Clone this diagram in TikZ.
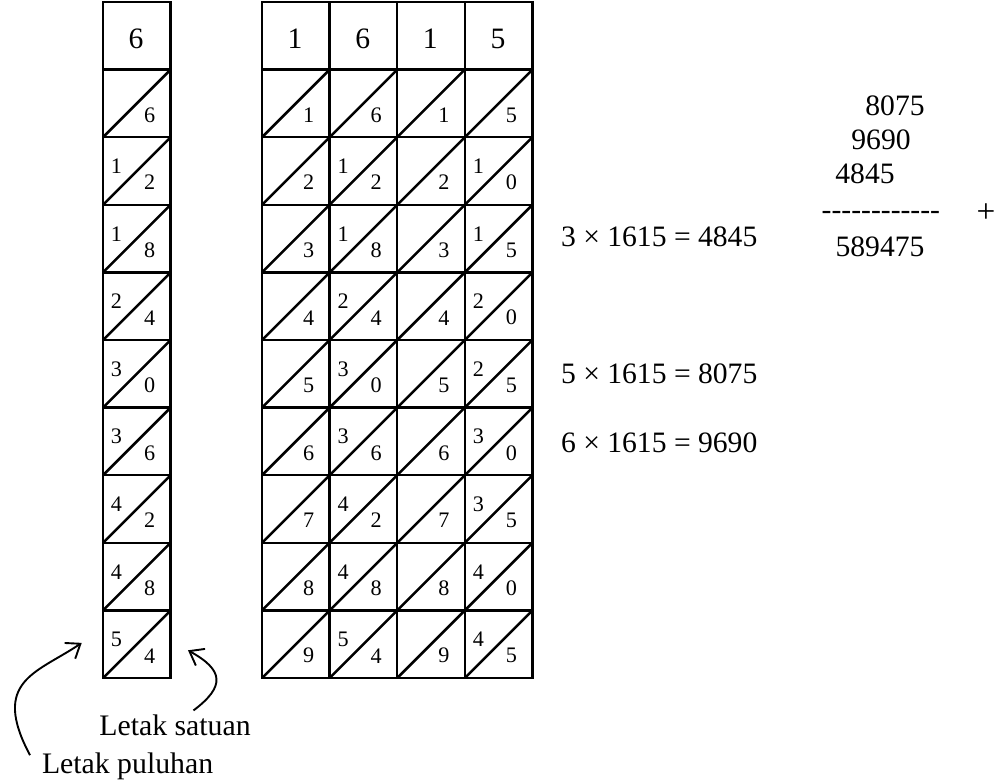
\documentclass[tikz,border=0pt]{standalone}
\usepackage{fontspec}
\setmainfont{Liberation Serif}[Ligatures=TeXOff]
\usetikzlibrary{arrows.meta, positioning}

\begin{document}
\begin{tikzpicture}[x=1.5cm, y=1.5cm,
    grid/.style={line width=1.6pt},
    head/.style={font=\fontsize{18.7}{21}\selectfont, anchor=base, inner sep=0pt},
    digit/.style={font=\fontsize{14}{16}\selectfont, inner sep=0pt},
    eqn/.style={font=\fontsize{18.7}{21}\selectfont, anchor=base west, inner sep=0pt},
    sum/.style={font=\fontsize{18.7}{21}\selectfont, anchor=base, inner sep=0pt},
    note/.style={font=\fontsize{18.8}{21}\selectfont, anchor=base west, inner sep=0pt},
    pointer/.style={-{Straight Barb[length=8pt, width=12pt]}, line width=1.2pt},
]
    \useasboundingbox (-3.876,0.03) rectangle (10.828,-11.509);

    % lattice strips: 6 on its own, then 1 6 1 5
    \foreach \x/\d [count=\c] in {-2.352/6, 0/1, 1/6, 2/1, 3/5} {
        \draw[grid] (\x,0) rectangle ++(1,-10);
        \node[head] (h\c) at (\x+0.49,-0.685) {\d};
        \foreach \k in {1,...,9} {
            \draw[grid] (\x,-\k) -- ++(1,0);
            \draw[grid] (\x,-\k-1) -- ++(1,1);
            \pgfmathtruncatemacro\tn{div(\d*\k,10)}
            \pgfmathtruncatemacro\un{mod(\d*\k,10)}
            \node[digit] (u\c-\k) at (\x+0.69,-\k-0.67) {\un};
            \ifnum\tn>0 \node[digit] (t\c-\k) at (\x+0.2,-\k-0.43) {\tn};\fi
        }
    }

    % partial products
    \node[eqn] (eq3) at (4.419,-3.620) {3 × 1615 = 4845};
    \node[eqn] (eq5) at (4.419,-5.636) {5 × 1615 = 8075};
    \node[eqn] (eq6) at (4.419,-6.667) {6 × 1615 = 9690};

    % addition
    \node[sum] (s5) at (9.364,-1.672) {8075};
    \node[sum] (s6) at (9.157,-2.179) {9690};
    \node[sum] (s3) at (8.920,-2.678) {4845};
    \node[sum] (bar) at (9.155,-3.222) {------------};
    \node[font=\fontsize{21}{23}\selectfont, inner sep=0pt] (plus) at (10.71,-3.117) {+};
    \node[sum] (total) at (9.142,-3.768) {589475};

    % labels for the bottom cell of the 6 strip
    \coordinate (tenpos) at (-2.667,-9.48);
    \coordinate (unitpos) at (-1.095,-9.59);
    \node[note] (satuan) at (-2.411,-10.843) {Letak satuan};
    \node[note] (puluhan) at (-3.259,-11.405) {Letak puluhan};
    \draw[pointer] ([xshift=-0.26cm,yshift=-0.07cm]puluhan.north west)
        .. controls +(118:1.25) and +(214:0.8) .. (tenpos);
    \draw[pointer] ([xshift=0.41cm,yshift=0.08cm]satuan.north)
        .. controls +(37:0.6) and +(331:0.6) .. (unitpos);
\end{tikzpicture}
\end{document}
